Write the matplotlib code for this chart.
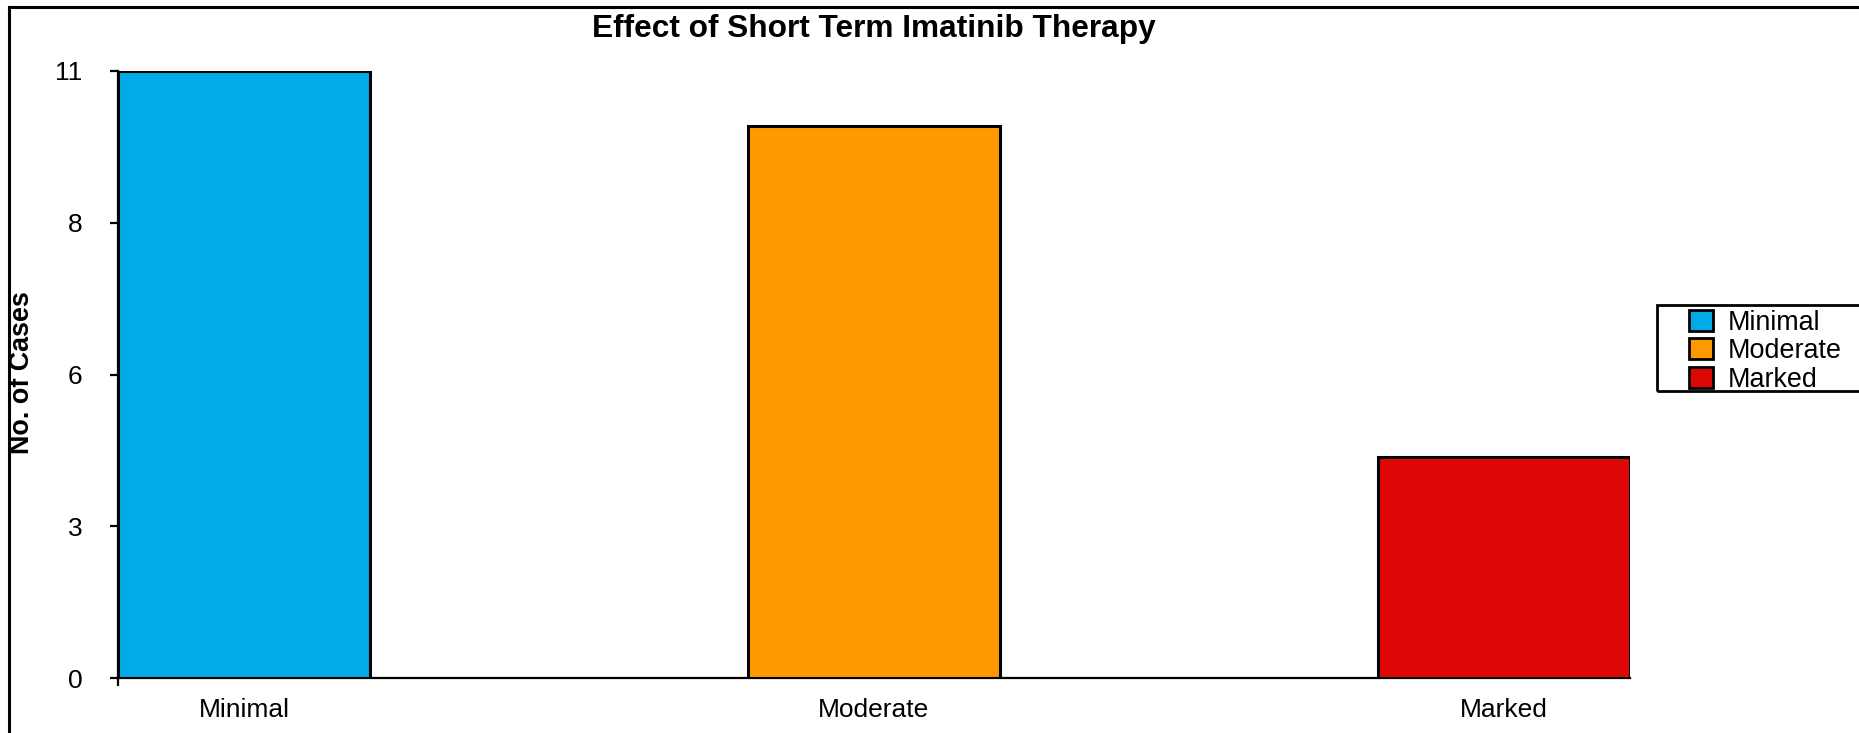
import numpy as np
import matplotlib
matplotlib.use("Agg")
import matplotlib.pyplot as plt
from matplotlib.lines import Line2D
from matplotlib.patches import Rectangle

# --- Data ---
categories = ["Minimal", "Moderate", "Marked"]
cases = [11, 10, 4]
bar_colors = ["#00ABE7", "#FF9900", "#DD0806"]
ytick_labels = ["0", "3", "6", "8", "11"]

plt.rcParams["font.family"] = ["Liberation Sans", "DejaVu Sans"]

W, H = 1859, 733
fig = plt.figure(figsize=(W / 100, H / 100), dpi=100)
ax = fig.add_axes([118 / W, 1 - 678 / H, (1630 - 118) / W, (678 - 71) / H])

x = np.arange(len(categories))
bars = ax.bar(x, cases, width=0.4, color=bar_colors, edgecolor="black",
              linewidth=2.2, zorder=3)

ax.set_xlim(-0.2, len(categories) - 1 + 0.2)
ax.set_ylim(0, max(cases))

# y ticks split the range in four, labels rounded
ax.set_yticks(np.linspace(0, max(cases), len(ytick_labels)))
ax.set_yticklabels(ytick_labels, fontsize=19)
ax.tick_params(axis="y", direction="out", length=6, width=1.6, pad=19.5)

ax.set_xticks(x)
ax.set_xticklabels(categories, fontsize=19)
ax.tick_params(axis="x", which="major", length=0, pad=14.7)
ax.set_xticks([-0.2], minor=True)
ax.tick_params(axis="x", which="minor", direction="out", length=6, width=1.6)

for side in ("top", "right"):
    ax.spines[side].set_visible(False)
for side in ("left", "bottom"):
    ax.spines[side].set_linewidth(1.6)
    ax.spines[side].set_color("black")

fig.text(874 / W, 1 - 29.5 / H, "Effect of Short Term Imatinib Therapy",
         ha="center", va="center", fontsize=22.8, fontweight="bold")
fig.text(22 / W, 1 - 373 / H, "No. of Cases", rotation=90,
         ha="center", va="center", fontsize=19.4, fontweight="bold")

# legend, with its own box running off the right edge
leg = ax.legend(bars.patches, categories, loc="upper left",
                bbox_to_anchor=(1689 / W, 1 - 309.5 / H),
                bbox_transform=fig.transFigure, frameon=False, fontsize=19.4,
                borderpad=0, borderaxespad=0, handlelength=0.88,
                handleheight=0.82, handletextpad=0.55, labelspacing=0.1)
for h in leg.legend_handles:
    h.set_linewidth(2)
fig.add_artist(Rectangle((1657 / W, 1 - 391 / H), 0.2, 86 / H,
                         transform=fig.transFigure, fill=False,
                         edgecolor="black", linewidth=2))

# outer frame, top and left edges
fig.add_artist(Line2D([9 / W, 1.0], [1 - 7 / H, 1 - 7 / H],
                      transform=fig.transFigure, color="black", linewidth=2.2))
fig.add_artist(Line2D([9 / W, 9 / W], [0.0, 1 - 7 / H],
                      transform=fig.transFigure, color="black", linewidth=2.2))

fig.savefig("out.png", dpi=100, facecolor="white")
